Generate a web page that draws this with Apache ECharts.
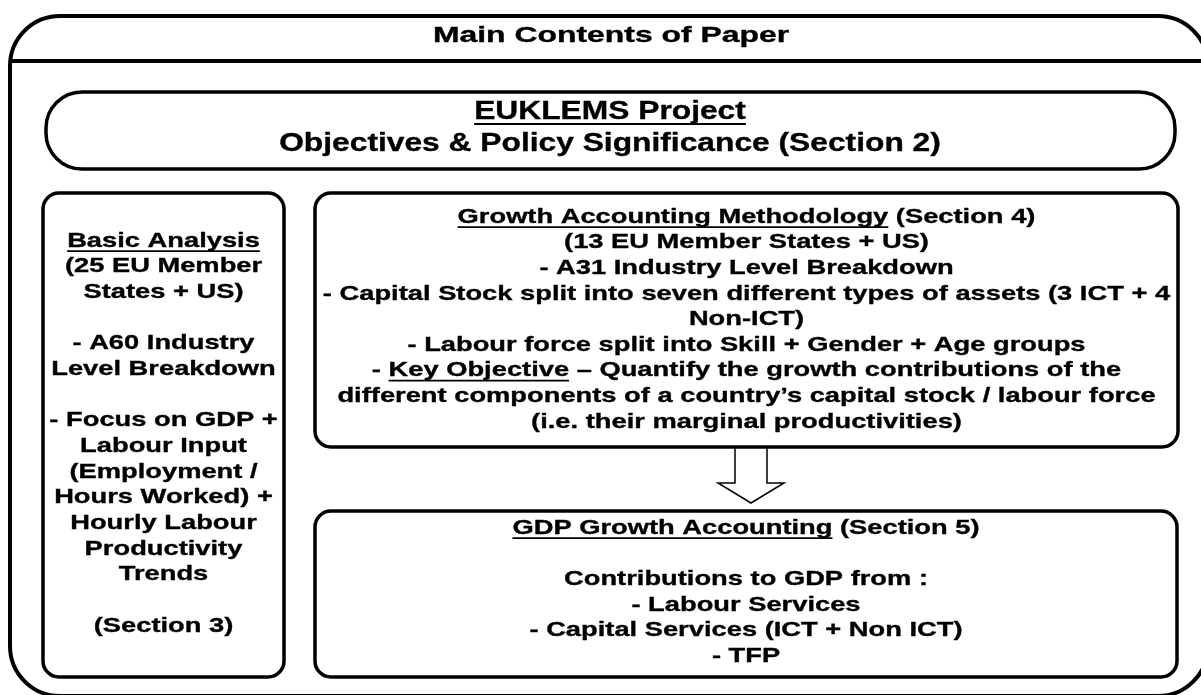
<!DOCTYPE html>
<html>
<head>
<meta charset="utf-8">
<script src="https://cdn.jsdelivr.net/npm/echarts@6/dist/echarts.min.js"></script>
<style>
  html, body { margin: 0; padding: 0; background: #fff; }
  #main { width: 1201px; height: 695px; }
</style>
</head>
<body>
<div id="main"></div>
<script>
// texts of the diagram, _x_ = underlined part
const titleLines = ['Main Contents of Paper'];
const projectLines = ['_EUKLEMS Project_', 'Objectives & Policy Significance (Section 2)'];
const basicLines = [
  '_Basic Analysis_', '(25 EU Member', 'States + US)', '',
  '- A60 Industry', 'Level Breakdown', '',
  '- Focus on GDP +', 'Labour Input', '(Employment /', 'Hours Worked) +',
  'Hourly Labour', 'Productivity', 'Trends', '', '(Section 3)'
];
const growthLines = [
  '_Growth Accounting Methodology_ (Section 4)',
  '(13 EU Member States + US)',
  '- A31 Industry Level Breakdown',
  '- Capital Stock split into seven different types of assets (3 ICT + 4',
  'Non-ICT)',
  '- Labour force split into Skill + Gender + Age groups',
  '- _Key Objective_ \u2013 Quantify the growth contributions of the',
  'different components of a country\u2019s capital stock / labour force',
  '(i.e. their marginal productivities)'
];
const gdpLines = [
  '_GDP Growth Accounting_ (Section 5)', '',
  'Contributions to GDP from :',
  '- Labour Services',
  '- Capital Services (ICT + Non ICT)',
  '- TFP'
];

const FONT = '"Liberation Sans", Arial, sans-serif';
const ctx = document.createElement('canvas').getContext('2d');

// text blocks: where each list goes
const blocks = [
  {lines: titleLines, cx: 611, y0: 36, lh: 30, size: 22, sx: 1.45},
  {lines: projectLines, cx: 610, y0: 112.5, lh: 32, size: 25, sx: 1.27},
  {lines: basicLines, cx: 163.5, y0: 241, lh: 25.65, size: 21, sx: 1.3},
  {lines: growthLines, cx: 746.5, y0: 217, lh: 25.6, size: 21, sx: 1.3},
  {lines: gdpLines, cx: 746, y0: 528, lh: 25.6, size: 21, sx: 1.3}
];

let els = [];
const box = (x, y, w, h, r, lw) => ({
  type: 'rect', shape: {x: x, y: y, width: w, height: h, r: r},
  style: {fill: '#fff', stroke: '#000', lineWidth: lw}
});

// frames
els.push(box(10, 16, 1198, 680, 50, 4));
els.push({type: 'line', shape: {x1: 10, y1: 61, x2: 1201, y2: 61}, style: {stroke: '#000', lineWidth: 4}});
els.push(box(46, 92, 1129, 77, 36, 3.5));
els.push(box(43, 193, 241, 484, 16, 3.5));
els.push({
  type: 'polygon',
  shape: {points: [[735, 447], [735, 483], [718, 483], [751, 503], [784, 483], [767, 483], [767, 447]]},
  style: {fill: '#fff', stroke: '#000', lineWidth: 1.5}
});
els.push(box(315, 193, 863, 254, 16, 3.5));
els.push(box(315, 511, 862, 166, 16, 3.5));

blocks.forEach(b => {
  ctx.font = 'bold ' + b.size + 'px ' + FONT;
  b.lines.forEach((line, i) => {
    if (!line) return;
    const y = b.y0 + i * b.lh;
    const parts = line.split('_');
    const widths = parts.map(p => ctx.measureText(p).width * b.sx);
    const total = widths.reduce((a, c) => a + c, 0);
    let x = b.cx - total / 2;
    parts.forEach((p, k) => {
      if (p) {
        els.push({
          type: 'text', x: x, y: y, scaleX: b.sx,
          style: {
            text: p, x: 0, y: 0, fill: '#000',
            stroke: '#000', lineWidth: 0.35,
            fontSize: b.size, fontWeight: 'bold', fontFamily: FONT,
            align: 'left', verticalAlign: 'middle'
          }
        });
      }
      if (k % 2 === 1) {
        const uy = y + b.size * 0.36 + 2.5;
        els.push({type: 'line', shape: {x1: x, y1: uy, x2: x + widths[k], y2: uy}, style: {stroke: '#000', lineWidth: 1.8}});
      }
      x += widths[k];
    });
  });
});

const chart = echarts.init(document.getElementById('main'));
chart.setOption({
  backgroundColor: '#fff',
  animation: false,
  graphic: {elements: els}
});
</script>
</body>
</html>
